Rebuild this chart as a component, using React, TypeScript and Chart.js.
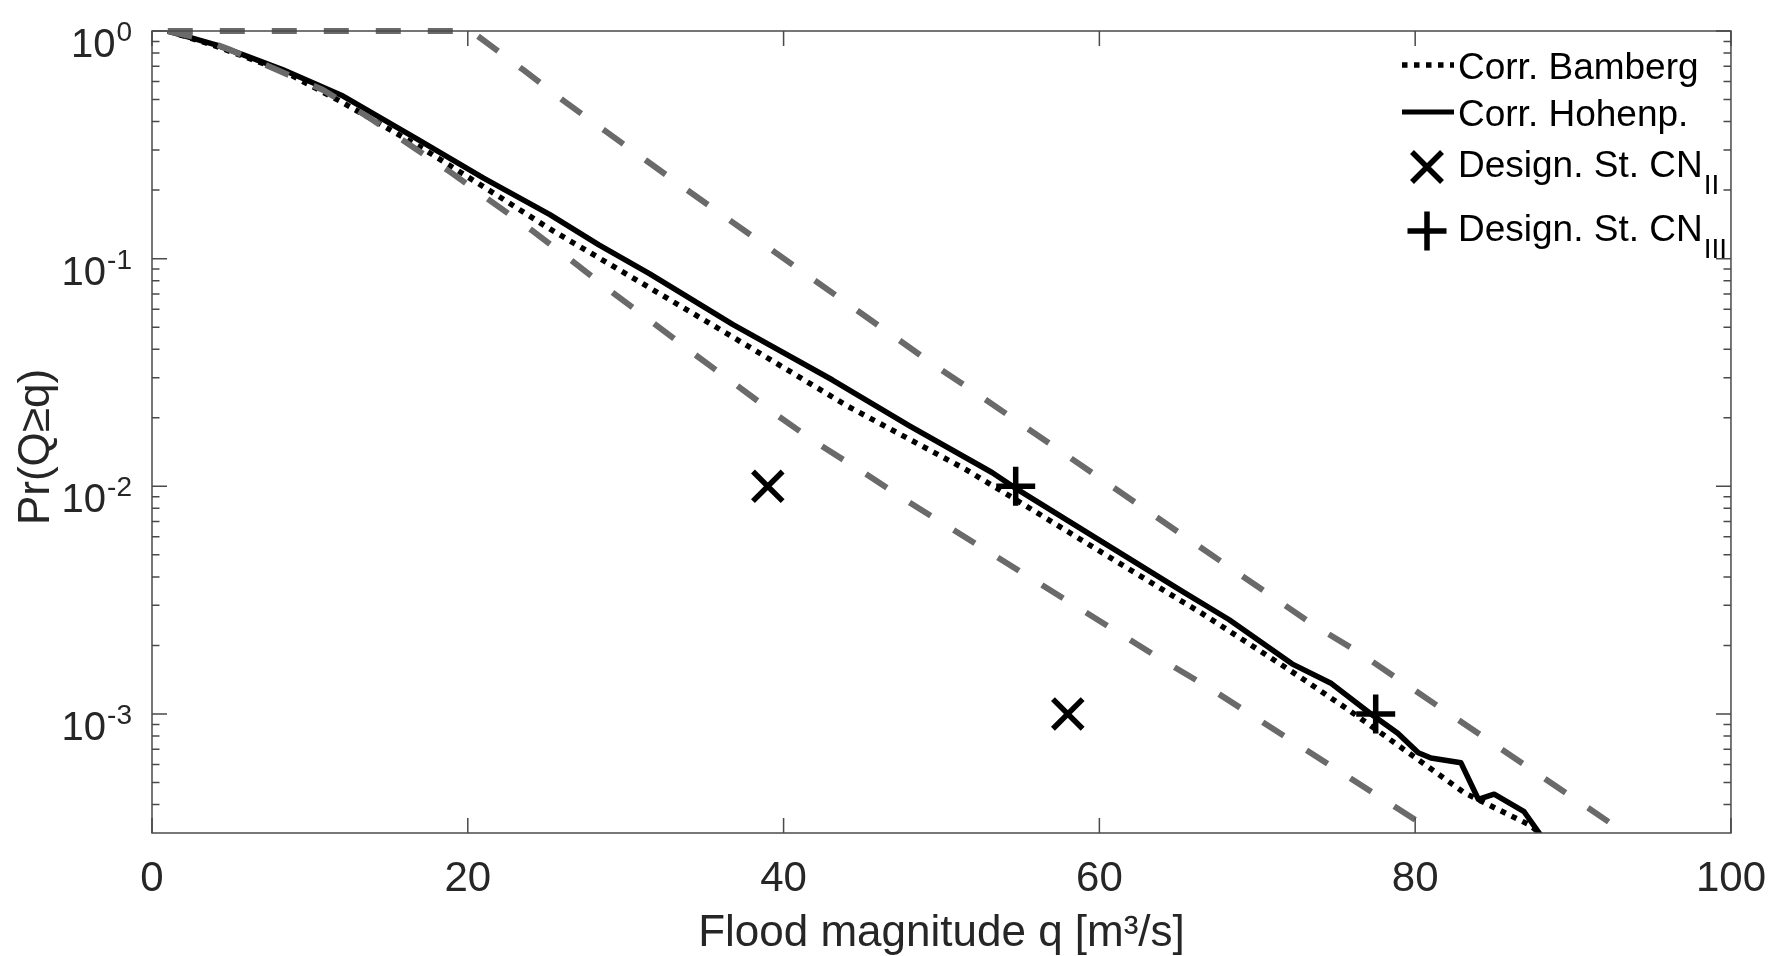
import React, { useEffect, useRef } from 'react';
import { Chart, registerables } from 'chart.js';

Chart.register(...registerables);

const FONT = '"Liberation Sans", Arial, Helvetica, sans-serif';

// Corr. Hohenp. (solid)
const hohenpQ = [1, 2, 4.1, 6, 8.3, 12.1, 16.8, 21, 25.2, 28.3, 31.5, 36.8, 43.1, 48, 53.2, 54.6, 60, 65.2, 68.2, 72.2, 74.7, 77.2, 78.9, 80.2, 81, 82.9, 84, 85, 86.9, 88];
const hohenpP = [1, 0.955, 0.867, 0.776, 0.676, 0.518, 0.335, 0.226, 0.156, 0.115, 0.086, 0.0513, 0.0293, 0.0184, 0.0115, 0.0099, 0.0058, 0.00347, 0.0026, 0.00166, 0.00136, 0.001, 0.000822, 0.000676, 0.000641, 0.00061, 0.000422, 0.000444, 0.000372, 0.00029];

// Corr. Bamberg (dotted)
const bambergQ = [1, 4, 8.3, 12.1, 17.2, 22, 25.2, 31.5, 36.8, 44.1, 51.5, 54.5, 60, 65.2, 66.3, 70.5, 72.6, 75.8, 79.3, 83.1, 87.3, 88];
const bambergP = [1, 0.861, 0.668, 0.484, 0.303, 0.187, 0.135, 0.0746, 0.0452, 0.0224, 0.0119, 0.00891, 0.0052, 0.00313, 0.00282, 0.00183, 0.00147, 0.00104, 0.000697, 0.000451, 0.000324, 0.000295];

// Grey dashed bounds
const lowerQ = [1, 3, 4.96, 7.9, 10.8, 13.6, 16.1, 18.9, 21.5, 24.0, 26.6, 29.2, 31.7, 34.3, 37.0, 39.5, 42.1, 44.9, 47.6, 53.0, 63.9, 66.9, 80.4, 81.2];
const lowerP = [1, 0.93, 0.826, 0.676, 0.552, 0.423, 0.324, 0.24, 0.178, 0.134, 0.0977, 0.0708, 0.0525, 0.0383, 0.0279, 0.0207, 0.0155, 0.0117, 0.00881, 0.00515, 0.00174, 0.00131, 0.000329, 0.000302];
const upperQ = [1, 20.2, 23.5, 26.1, 28.7, 31.3, 33.9, 49.7, 52.4, 73.6, 76.4, 92.3, 93.2];
const upperP = [1, 1, 0.676, 0.492, 0.364, 0.27, 0.2, 0.0335, 0.0251, 0.00245, 0.00187, 0.000334, 0.000302];

// Design storms
const cnIIQ = [39, 58];
const cnIIP = [0.01, 0.001];
const cnIIIQ = [54.7, 77.5];
const cnIIIP = [0.01, 0.001];

// Axes
const xMin = 0;
const xMax = 100;
const xStep = 20;
const yMin = 3.2e-4;
const yMax = 1;
const yTickExponents = [0, -1, -2, -3];
const legendLabels = ['Corr. Bamberg', 'Corr. Hohenp.', 'Design. St. CN', 'Design. St. CN'];
const legendSubs = ['', '', 'II', 'III'];
const xTitle = 'Flood magnitude q [m³/s]';
const yTitle = 'Pr(Q≥q)';

const GREY = '#6a6a6a';
const AXIS = '#4a4a4a';
const TEXT = '#262626';

const toPts = (xs: number[], ys: number[]) => xs.map((x, i) => ({ x, y: ys[i] }));

const framePlugin = {
  id: 'matlabFrame',
  afterDraw(chart: any) {
    const ctx: CanvasRenderingContext2D = chart.ctx;
    const { left, right, top, bottom } = chart.chartArea;
    const xs = chart.scales.x;
    const ys = chart.scales.y;
    ctx.save();
    // box
    ctx.strokeStyle = AXIS;
    ctx.lineWidth = 1.5;
    ctx.setLineDash([]);
    ctx.strokeRect(left, top, right - left, bottom - top);
    // x ticks (inward, bottom and top)
    ctx.beginPath();
    for (let v = xMin; v <= xMax; v += xStep) {
      const px = xs.getPixelForValue(v);
      ctx.moveTo(px, bottom);
      ctx.lineTo(px, bottom - 15);
      ctx.moveTo(px, top);
      ctx.lineTo(px, top + 15);
    }
    // y ticks major + minor
    for (let e = -4; e <= 0; e++) {
      for (let m = 1; m <= 9; m++) {
        const val = m * Math.pow(10, e);
        if (val < yMin * 0.999 || val > yMax * 1.001) continue;
        const py = ys.getPixelForValue(val);
        const len = m === 1 ? 15 : 7.5;
        ctx.moveTo(left, py);
        ctx.lineTo(left + len, py);
        ctx.moveTo(right, py);
        ctx.lineTo(right - len, py);
      }
    }
    ctx.stroke();

    // y tick labels with superscripts
    ctx.fillStyle = TEXT;
    for (const e of yTickExponents) {
      const py = ys.getPixelForValue(Math.pow(10, e));
      const sup = String(e);
      ctx.font = `28px ${FONT}`;
      const supW = ctx.measureText(sup).width;
      ctx.font = `40px ${FONT}`;
      const baseW = ctx.measureText('10').width;
      const rightEdge = left - 20;
      ctx.textAlign = 'left';
      ctx.textBaseline = 'alphabetic';
      ctx.fillText('10', rightEdge - supW - 1 - baseW, py + 26);
      ctx.font = `28px ${FONT}`;
      ctx.fillText(sup, rightEdge - supW, py + 10);
    }

    // y title
    ctx.save();
    ctx.translate(37, 447);
    ctx.rotate(-Math.PI / 2);
    ctx.font = `44px ${FONT}`;
    ctx.textAlign = 'center';
    ctx.textBaseline = 'middle';
    ctx.fillStyle = TEXT;
    ctx.fillText(yTitle, 0, 0);
    ctx.restore();

    // legend
    ctx.strokeStyle = '#000';
    ctx.fillStyle = '#000';
    ctx.textAlign = 'left';
    ctx.textBaseline = 'alphabetic';
    const tx = 1458;
    // row 1 dotted
    ctx.lineWidth = 5.5;
    ctx.lineCap = 'butt';
    ctx.setLineDash([5.5, 6.5]);
    ctx.beginPath();
    ctx.moveTo(1402, 65);
    ctx.lineTo(1454, 65);
    ctx.stroke();
    ctx.setLineDash([]);
    ctx.font = `37px ${FONT}`;
    ctx.fillText(legendLabels[0], tx, 79);
    // row 2 solid
    ctx.lineWidth = 5;
    ctx.beginPath();
    ctx.moveTo(1402, 112);
    ctx.lineTo(1454, 112);
    ctx.stroke();
    ctx.fillText(legendLabels[1], tx, 126);
    // row 3 x marker
    ctx.lineWidth = 5.5;
    const r3 = 15;
    ctx.beginPath();
    ctx.moveTo(1427 - r3, 167 - r3);
    ctx.lineTo(1427 + r3, 167 + r3);
    ctx.moveTo(1427 - r3, 167 + r3);
    ctx.lineTo(1427 + r3, 167 - r3);
    ctx.stroke();
    ctx.font = `37px ${FONT}`;
    ctx.fillText(legendLabels[2], tx, 177);
    let w = ctx.measureText(legendLabels[2]).width;
    ctx.font = `28px ${FONT}`;
    ctx.fillText(legendSubs[2], tx + w + 1, 194);
    // row 4 + marker
    const r4 = 19.5;
    ctx.beginPath();
    ctx.moveTo(1427 - r4, 231);
    ctx.lineTo(1427 + r4, 231);
    ctx.moveTo(1427, 231 - r4);
    ctx.lineTo(1427, 231 + r4);
    ctx.stroke();
    ctx.font = `37px ${FONT}`;
    ctx.fillText(legendLabels[3], tx, 241);
    w = ctx.measureText(legendLabels[3]).width;
    ctx.font = `28px ${FONT}`;
    ctx.fillText(legendSubs[3], tx + w + 1, 258);
    ctx.restore();
  },
};

export default function App() {
  const ref = useRef<HTMLCanvasElement>(null);
  useEffect(() => {
    const canvas = ref.current!;
    const clip = { left: 0, top: 8, right: 0, bottom: 0 };
    const chart = new Chart(canvas, {
      type: 'line',
      data: {
        datasets: [
          {
            label: 'Design. St. CN_II',
            data: toPts(cnIIQ, cnIIP),
            showLine: false,
            pointStyle: 'crossRot',
            pointRadius: 21,
            pointBorderWidth: 5.5,
            borderColor: '#000',
            backgroundColor: '#000',
          },
          {
            label: 'Design. St. CN_III',
            data: toPts(cnIIIQ, cnIIIP),
            showLine: false,
            pointStyle: 'cross',
            pointRadius: 19.5,
            pointBorderWidth: 5.5,
            borderColor: '#000',
            backgroundColor: '#000',
          },
          {
            label: 'Upper',
            data: toPts(upperQ, upperP),
            borderColor: GREY,
            borderWidth: 6,
            borderDash: [25, 27],
            borderCapStyle: 'butt',
            pointRadius: 0,
            tension: 0,
            clip,
          },
          {
            label: 'Lower',
            data: toPts(lowerQ, lowerP),
            borderColor: GREY,
            borderWidth: 6,
            borderDash: [25, 27],
            borderCapStyle: 'butt',
            pointRadius: 0,
            tension: 0,
            clip,
          },
          {
            label: 'Corr. Hohenp.',
            data: toPts(hohenpQ, hohenpP),
            borderColor: '#000',
            borderWidth: 5.5,
            borderJoinStyle: 'round',
            pointRadius: 0,
            tension: 0,
            clip,
          },
          {
            label: 'Corr. Bamberg',
            data: toPts(bambergQ, bambergP),
            borderColor: '#000',
            borderWidth: 5.5,
            borderDash: [5.5, 6.5],
            borderCapStyle: 'butt',
            pointRadius: 0,
            tension: 0,
            clip,
          },
        ],
      },
      options: {
        animation: false,
        responsive: false,
        maintainAspectRatio: false,
        events: [],
        layout: { padding: { top: 31, right: 53, bottom: 0, left: 0 } },
        plugins: {
          legend: { display: false },
          tooltip: { enabled: false },
          title: { display: false },
        },
        scales: {
          x: {
            type: 'linear',
            min: xMin,
            max: xMax,
            ticks: {
              stepSize: xStep,
              color: TEXT,
              font: { family: FONT, size: 42 },
              padding: 21,
              maxRotation: 0,
            },
            grid: { display: false, drawTicks: false },
            border: { display: false },
            title: {
              display: true,
              text: xTitle,
              color: TEXT,
              font: { family: FONT, size: 44, lineHeight: 1 },
              padding: 0,
            },
            afterFit: (s: any) => {
              s.height = 123;
            },
          },
          y: {
            type: 'logarithmic',
            min: yMin,
            max: yMax,
            ticks: { display: false },
            grid: { display: false, drawTicks: false },
            border: { display: false },
            afterFit: (s: any) => {
              s.width = 152;
            },
          },
        },
      } as any,
      plugins: [framePlugin],
    });
    return () => chart.destroy();
  }, []);
  return (
    <div style={{ position: 'fixed', left: 0, top: 0, width: 1787, height: 956, background: '#fff' }}>
      <canvas ref={ref} width={1787} height={956} style={{ display: 'block', width: 1787, height: 956 }} />
    </div>
  );
}
